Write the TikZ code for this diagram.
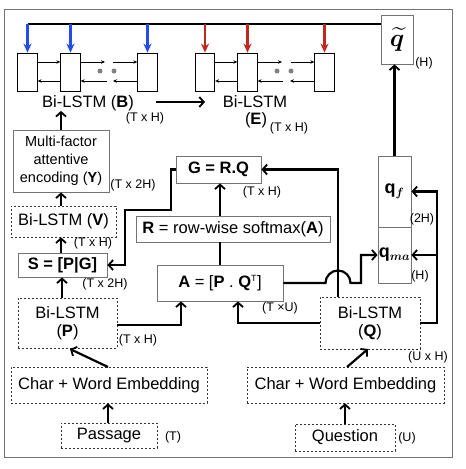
\documentclass[tikz,border=0pt]{standalone}
\usepackage{fontspec}
\usepackage{amsmath}
\setmainfont{Liberation Sans}
\usetikzlibrary{arrows.meta}
\definecolor{bblue}{RGB}{35,75,230}
\definecolor{rred}{RGB}{190,40,30}
\newcommand\BigTxt{\fontsize{16.5}{18}\selectfont}
\newcommand\MidTxt{\fontsize{14.5}{18}\selectfont}
\newcommand\SmTxt{\fontsize{12.5}{14}\selectfont}
\begin{document}
\begin{tikzpicture}[x=1pt,y=-1pt,
  bx/.style={draw=black!55, line width=0.8pt, inner sep=0pt, align=center, font=\BigTxt},
  dbx/.style={draw=black!80, line width=0.6pt, dash pattern=on 2pt off 2pt, inner sep=0pt, align=center, font=\BigTxt},
  cell/.style={draw=black, line width=0.8pt, inner sep=0pt, minimum width=19.5pt, minimum height=38pt},
  lab/.style={inner sep=0pt, font=\SmTxt},
  txt/.style={inner sep=0pt, align=center, font=\BigTxt},
  conn/.style={line width=2.2pt, -{Straight Barb[length=4.5pt,width=10pt,line width=1.8pt]}},
  plain/.style={line width=2.2pt},
  thin/.style={line width=0.8pt, -{Stealth[length=4pt,width=3.5pt]}},
  down/.style={line width=2.4pt, -{Stealth[length=9pt,width=8pt]}},
  dot/.style={circle, fill=black!50, inner sep=0pt, minimum size=5pt}
]
\useasboundingbox (0,0) rectangle (466,469);
\draw[black!55, line width=0.8pt] (4,9) rectangle (452,457);

% q tilde
\node[bx, minimum width=32pt, minimum height=49pt] (qt) at (397,39.5) {\fontsize{24}{26}\selectfont$\boldsymbol{\widetilde{q}}$};
\node[lab] (qtl) at (424,63) {(H)};

% B cells
\node[cell] (B1) at (27.5,72) {};
\node[cell] (B2) at (70.5,72) {};
\node[cell] (B3) at (147.5,72) {};
% E cells
\node[cell] (E1) at (205,72) {};
\node[cell] (E2) at (247.5,72) {};
\node[cell] (E3) at (324.5,72) {};

\node[dot] (bd1) at (100,71) {};
\node[dot] (bd2) at (114,71) {};
\node[dot] (ed1) at (277,71) {};
\node[dot] (ed2) at (291,71) {};

\coordinate (bf1) at (105,62);
\coordinate (bf2) at (113,62);
\coordinate (bb1) at (107,81);
\coordinate (bb2) at (113,81);
\coordinate (ef1) at (282,62);
\coordinate (ef2) at (291,62);
\coordinate (eb1) at (283,81);
\coordinate (eb2) at (290,81);

\draw[thin] (B1.east |- 0,62) -- (B2.west |- 0,62);
\draw[thin] (B2.west |- 0,81) -- (B1.east |- 0,81);
\draw[thin] (B2.east |- 0,62) -- (bf1);
\draw[thin] (bb1) -- (B2.east |- 0,81);
\draw[thin] (bf2) -- (B3.west |- 0,62);
\draw[thin] (B3.west |- 0,81) -- (bb2);

\draw[thin] (E1.east |- 0,62) -- (E2.west |- 0,62);
\draw[thin] (E2.west |- 0,81) -- (E1.east |- 0,81);
\draw[thin] (E2.east |- 0,62) -- (ef1);
\draw[thin] (eb1) -- (E2.east |- 0,81);
\draw[thin] (ef2) -- (E3.west |- 0,62);
\draw[thin] (E3.west |- 0,81) -- (eb2);

% top line
\coordinate (tl) at (27.5,24);
\draw[line width=2.4pt] (tl) -- (qt.west |- tl);
\draw[down, bblue] (B1.north |- tl) -- (B1.north);
\draw[down, bblue] (B2.north |- tl) -- (B2.north);
\draw[down, bblue] (B3.north |- tl) -- (B3.north);
\draw[down, rred] (E1.north |- tl) -- (E1.north);
\draw[down, rred] (E2.north |- tl) -- (E2.north);
\draw[down, rred] (E3.north |- tl) -- (E3.north);

\node[txt] (Blab) at (88,103) {Bi-LSTM (\textbf{B})};
\node[lab] (Bdim) at (145,118) {(T x H)};
\node[txt] (Elab) at (255,102) {Bi-LSTM};
\node[txt] (Elab2) at (256,120) {(\textbf{E})};
\node[lab] (Edim) at (289,128) {(T x H)};
\coordinate (be1) at (156,102);
\coordinate (be2) at (205,102);
\draw[conn] (be1) -- (be2);

% left column
\node[bx, font=\MidTxt, minimum width=96pt, minimum height=62pt] (Y) at (61,161) {Multi-factor\\attentive\\encoding (\textbf{Y})};
\node[lab] (Ydim) at (133,185) {(T x 2H)};
\node[dbx, minimum width=105pt, minimum height=31pt] (V) at (63.5,221.5) {Bi-LSTM (\textbf{V})};
\node[lab] (Vdim) at (93,243) {(T x H)};
\node[bx, minimum width=89pt, minimum height=24pt] (S) at (62.5,265) {\textbf{S = [P|G]}};
\node[lab] (Sdim) at (105,284) {(T x 2H)};
\node[dbx, minimum width=99pt, minimum height=50pt] (P) at (67.5,323) {Bi-LSTM\\(\textbf{P})};
\node[lab] (Pdim) at (138,340) {(T x H)};
\node[dbx, minimum width=196pt, minimum height=36pt] (CP) at (109,385) {Char + Word Embedding};
\node[dbx, minimum width=96pt, minimum height=25pt] (Pas) at (109,435.5) {Passage};
\node[lab] (Pasl) at (173,437) {(T)};

% middle
\node[bx, minimum width=85pt, minimum height=27pt] (G) at (218.5,169.5) {\textbf{G = R.Q}};
\node[lab] (Gdim) at (262,192) {(T x H)};
\node[bx, minimum width=194pt, minimum height=26pt] (R) at (233,229) {\textbf{R} = row-wise softmax(\textbf{A})};
\node[bx, minimum width=126pt, minimum height=36pt] (A) at (220,283) {\textbf{A} = [\textbf{P} . \textbf{Q}\textsuperscript{\fontsize{9}{10}\selectfont T}]};
\node[lab] (Adim) at (280,308) {(T ×U)};

% right
\node[bx, minimum width=33pt, minimum height=71pt] (qf) at (394.5,191.5) {\fontsize{18}{20}\selectfont$\mathbf{q}_{\boldsymbol{f}}$};
\node[lab] (qfdim) at (422,219) {(2H)};
\node[bx, minimum width=33pt, minimum height=56pt] (qma) at (394.5,255) {\fontsize{18}{20}\selectfont$\mathbf{q}_{\boldsymbol{ma}}$};
\node[lab] (qmadim) at (420,276) {(H)};
\node[dbx, minimum width=100pt, minimum height=52pt] (Q) at (370,323) {Bi-LSTM\\(\textbf{Q})};
\node[lab] (Qdim) at (428,357) {(U x H)};
\node[dbx, minimum width=197pt, minimum height=36pt] (CQ) at (345.5,385) {Char + Word Embedding};
\node[dbx, minimum width=100pt, minimum height=27pt] (Que) at (345,437.5) {Question};
\node[lab] (Quel) at (407,438) {(U)};

% connectors left column
\draw[conn] (Y.north) -- (Y.north |- Blab.south);
\draw[conn] (V.north -| Y.south) -- (Y.south);
\draw[conn] (S.north -| Y.south) -- (V.south -| Y.south);
\draw[conn] (P.north -| 62,0) -- (S.south -| 62,0);
\coordinate (cp1) at (108,367);
\coordinate (p1) at (70,349);
\draw[conn] (cp1) -- (p1);
\draw[conn] (Pas.north -| 108,0) -- (CP.south -| 108,0);

% P -> A and Q -> A
\coordinate (pa) at (181,325);
\draw[conn] (P.east |- pa) -- (pa) -- (A.south -| pa);
\coordinate (qa) at (238,323);
\draw[conn] (Q.west |- qa) -- (qa) -- (A.south -| qa);

% A -> R -> G
\draw[plain] (A.north) -- (A.north |- R.south);
\draw[conn] (R.north -| A.north) -- (G.south -| A.north);

% G -> S
\coordinate (gs1) at (171,169.5);
\coordinate (gs2) at (171,210);
\coordinate (gs3) at (125,210);
\coordinate (gs4) at (125,265);
\draw[conn] (G.west) -- (gs1) -- (gs2) -- (gs3) -- (gs4) -- (S.east);

% Q -> G
\coordinate (qg) at (338,169.5);
\draw[conn] (Q.north -| qg) -- (qg) -- (G.east);

% A -> qma with hop
\coordinate (h1) at (325.5,283);
\coordinate (h2) at (361,283);
\coordinate (h3) at (361,255);
\draw[conn] (A.east) -- (h1) arc[start angle=180, end angle=0, radius=12.5pt] -- (h2) -- (h3) -- (qma.west);

% right loop
\coordinate (r1) at (437,323);
\coordinate (r2) at (437,191.5);
\coordinate (r3) at (437,255);
\draw[conn] (Q.east) -- (r1) -- (r2) -- (qf.east);
\draw[conn] (r3) -- (qma.east);

% qf -> q tilde
\draw[conn] (qf.north) -- (qf.north |- qt.south);

% embeddings
\coordinate (cq1) at (347,367);
\coordinate (q1) at (368,349);
\draw[conn] (cq1) -- (q1);
\draw[conn] (Que.north) -- (CQ.south -| Que.north);
\end{tikzpicture}
\end{document}
